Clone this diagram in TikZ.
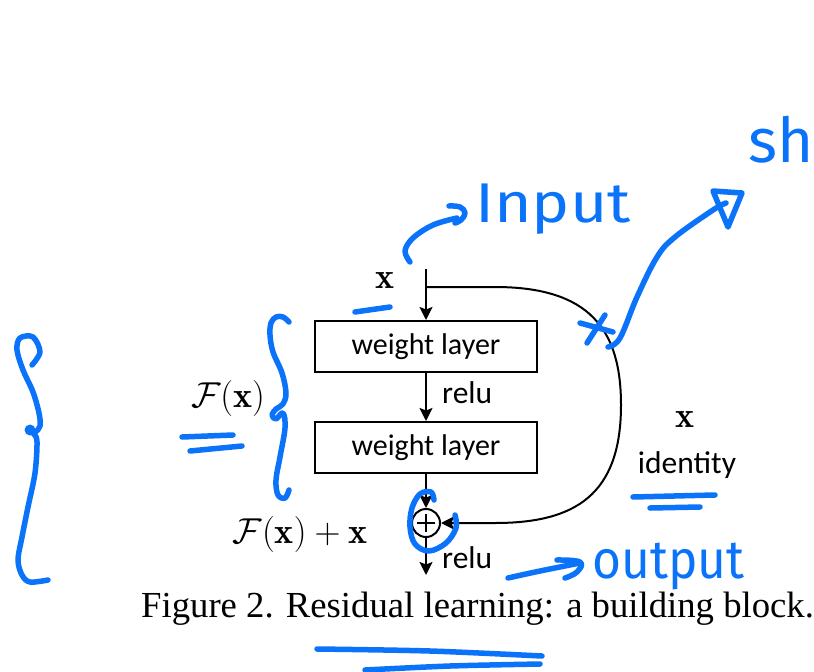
\RequirePackage{fix-cm}
\documentclass[tikz,border=0pt]{standalone}
\usepackage{fontspec}
\usetikzlibrary{arrows.meta}
\newfontfamily\diagfont{Carlito}
\newfontfamily\capfont{Liberation Serif}
\newfontfamily\handfont{Fira Sans}
\definecolor{penblue}{RGB}{10,115,250}
\tikzset{
  arr/.style={line width=2pt, -{Stealth[length=13pt,width=13pt,inset=2.5pt]}},
  layerbox/.style={draw, line width=2pt, minimum width=222pt, minimum height=51pt,
    inner sep=0pt, font=\diagfont\fontsize{30}{34}\selectfont},
  lbl/.style={inner sep=0pt, font=\diagfont\fontsize{31.5}{36}\selectfont},
  mathlbl/.style={inner sep=0pt, font=\fontsize{36}{42}\selectfont},
  pen/.style={draw=penblue, line width=5.5pt, line cap=round, line join=round},
  pentext/.style={inner sep=0pt, text=penblue, font=\handfont\fontsize{56}{60}\selectfont},
}
\begin{document}
\begin{tikzpicture}[x=1pt, y=-1pt]
\useasboundingbox (0,0) rectangle (814,672);
\clip (0,0) rectangle (814,672);

% ---- residual block ----
\coordinate (xin) at (426,269);
\coordinate (branch) at (426,287);
\node[layerbox] (w1) at (426,346.5) {weight layer};
\node[layerbox] (w2) at (426,447.5) {weight layer};
\node[circle, draw, line width=2pt, minimum size=28pt, inner sep=0pt] (sum) at (426,523) {};
\draw[line width=1.8pt] ([xshift=-9pt]sum.center) -- ([xshift=9pt]sum.center)
  ([yshift=-9pt]sum.center) -- ([yshift=9pt]sum.center);
\coordinate (yout) at (426,575);

\draw[arr] (xin) -- (w1.north);
\draw[arr] (w1.south) -- (w2.north);
\draw[arr] (w2.south) -- (sum.north);
\draw[arr] (sum.south) -- (yout);
\draw[arr] (branch) -- (495,287) .. controls (590,287) and (621,330) .. (621,405)
  .. controls (621,495) and (575,523) .. (495,523) -- (sum.east);

% labels
\node[mathlbl, anchor=base] (xlab) at (385,288) {$\mathbf{x}$};
\node[mathlbl, anchor=base] (flab) at (228,407) {$\mathcal{F}(\mathbf{x})$};
\node[mathlbl, anchor=base] (fxlab) at (300,543) {$\mathcal{F}(\mathbf{x})+\mathbf{x}$};
\node[lbl, anchor=base west] (relu1) at (442,403) {relu};
\node[lbl, anchor=base west] (relu2) at (442,568) {relu};
\node[mathlbl, anchor=base] (xid) at (685,427) {$\mathbf{x}$};
\node[lbl, anchor=base] (idlab) at (687,473) {identity};

% caption
\node[inner sep=0pt, anchor=base west, font=\capfont\fontsize{36.7}{42}\selectfont]
  (cap) at (141,617) {Figure 2. Residual learning: a building block.};

% ---- pen annotations ----
% big brace on the left
\draw[pen] plot[smooth, tension=0.55] coordinates {(32,365) (40,352) (33,337) (20,338) (17,350)
  (23,370) (33,392) (39,413) (40,426) (35,432) (30,430) (34,434) (37,442) (35,473) (28,507)
  (22,537) (18,560) (22,575) (30,582) (48,580)};
\fill[penblue] (30,430) circle (5.5pt);

% brace next to F(x)
\draw[pen] plot[smooth, tension=0.6] coordinates {(289,322) (283,317) (276,317) (271,323)
  (270,335) (273,352) (282,373) (286,393) (283,404) (276,409) (272,415) (276,419) (283,413)
  (285,428) (280,457) (276,480) (278,495) (285,498) (289,490)};
\draw[pen] (182,437) -- (233,435);
\draw[pen] (190,451) -- (242,446);

% mark under the input x
\draw[pen] (355,312) -- (390,307);

% pointer to the input
\draw[pen] plot[smooth, tension=0.6] coordinates {(410,262) (405,251) (413,238) (433,225) (457,218)};
\draw[pen] plot[smooth, tension=0.7] coordinates {(449,206) (460,207) (465,213) (461,220) (455,223)};
\node[pentext, anchor=base west, xscale=1.15] (inputtxt) at (475,222) {Input};

% cross on the shortcut and the arrow leaving it
\draw[pen] (580,323) -- (613,332);
\draw[pen] (605,315) -- (587,343);
\draw[pen] plot[smooth, tension=0.6] coordinates {(608,347) (620,338) (637,297) (657,257)
  (675,237) (713,210) (726,203)};
\draw[pen] (713,191) -- (742,193) -- (728,227) -- cycle;
\node[pentext, anchor=base west, font=\handfont\fontsize{62}{66}\selectfont] (shtxt) at (748,162) {sh};

% loop around the sum node
\draw[pen] plot[smooth, tension=0.6] coordinates {(434,500) (431,492) (420,494) (412,508)
  (410,527) (415,544) (429,551) (446,543) (456,528) (455,515)};

% marks under identity
\draw[pen] (633,497) -- (715,495);
\draw[pen] (650,508) -- (700,507);

% pointer to the output
\draw[pen] plot[smooth, tension=0.6] coordinates {(508,578) (540,571) (580,563)};
\draw[pen] plot[smooth, tension=0.7] coordinates {(557,560) (580,562) (577,572) (565,578)};
\node[pentext, anchor=base west, font=\handfont\fontsize{54}{58}\selectfont, xscale=0.92] (outtxt) at (592,578) {output};

% marks under the caption
\draw[pen] plot[smooth, tension=0.5] coordinates {(317,649) (430,651) (542,656)};
\draw[pen] plot[smooth, tension=0.5] coordinates {(365,670) (450,666) (540,664)};
\end{tikzpicture}
\end{document}
